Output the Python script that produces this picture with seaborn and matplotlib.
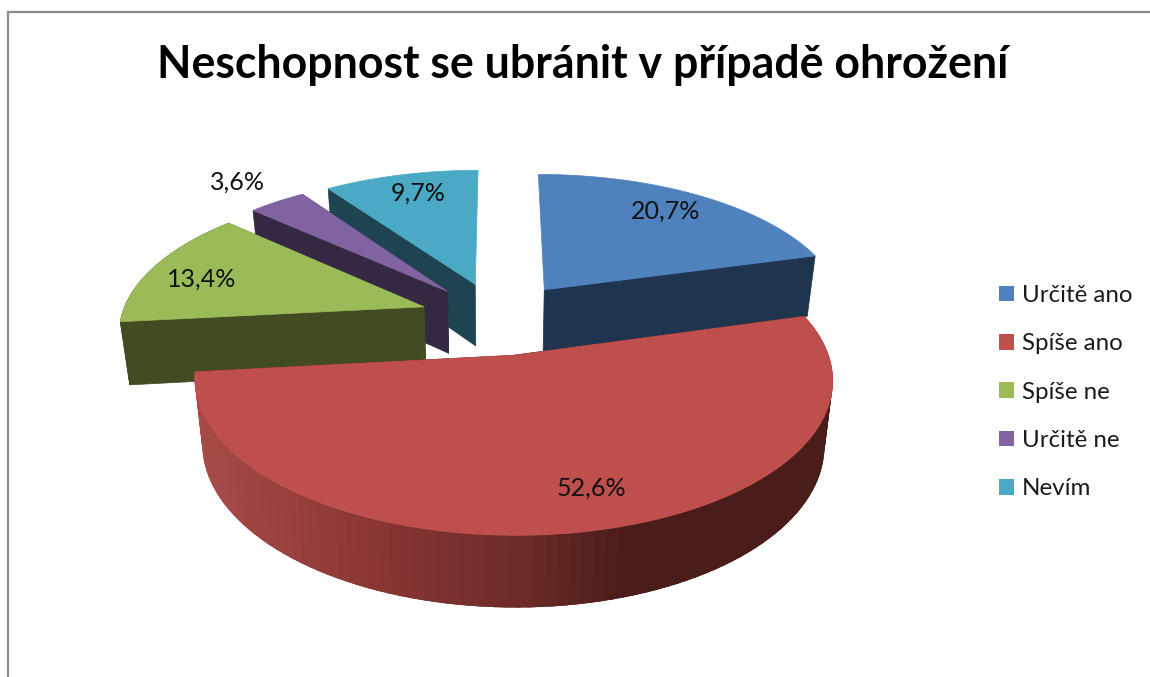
import numpy as np
import matplotlib
matplotlib.use('Agg')
import matplotlib.pyplot as plt
from matplotlib.colors import LinearSegmentedColormap
from matplotlib.patches import Patch, Polygon
import seaborn as sns

titulo = 'Neschopnost se ubránit v případě ohrožení'
categorias = ['Určitě ano', 'Spíše ano', 'Spíše ne', 'Určitě ne', 'Nevím']
valores = [20.7, 52.6, 13.4, 3.6, 9.7]
etiquetas = ['20,7%', '52,6%', '13,4%', '3,6%', '9,7%']
colores = ['#4F81BD', '#BE4F4C', '#9BBB59', '#8064A2', '#4AA9C4']
colores_pared = ['#1E344F', '#4B1D1A', '#414C23', '#352843', '#1D4450']

sns.set_theme(style='white')
plt.rcParams['font.family'] = ['Lato', 'DejaVu Sans']
paleta = sns.color_palette(colores)

# proyeccion del pie 3D, todo en pixeles de la imagen
cx, cy = 498, 318
rx, ry = 303, 140.5
persp = 0.15
grosor = 63
fondo = 0.975
explode = 0.26


def proyectar(X, Y, abajo=False):
    s = 1 / (1 + persp * Y)
    z = fondo if abajo else 1
    x = cx + rx * X * s * z
    y = cy - ry * Y * s * z
    if abajo:
        y = y + grosor * s
    return np.column_stack([x, y])


def gradiente_rojo():
    return LinearSegmentedColormap.from_list(
        'pared', [(0, '#A94C48'), (0.33, '#843430'), (0.52, '#6E2C2A'),
                  (0.68, '#4B1D1A'), (1, '#4B1D1A')])


fig = plt.figure(figsize=(11.5, 6.77), dpi=100)
ax = fig.add_axes([0, 0, 1, 1])
ax.set_xlim(0, 1150)
ax.set_ylim(677, 0)
ax.axis('off')

# marco gris
ax.plot([8, 8, 1150], [677, 12, 12], color='#8C8C8C', lw=1.6, solid_joinstyle='miter')

cum = np.cumsum([0] + valores) / sum(valores)
angulos = np.radians(90 - 360 * cum)

# orden de atras hacia adelante
for i in [4, 0, 3, 2, 1]:
    a0, a1 = angulos[i], angulos[i + 1]
    mid = (a0 + a1) / 2
    ax0, ay0 = explode * np.cos(mid), explode * np.sin(mid)
    t = np.linspace(a0, a1, 200)
    X = ax0 + np.cos(t)
    Y = ay0 + np.sin(t)
    arriba = proyectar(X, Y)
    abajo = proyectar(X, Y, abajo=True)
    apex_a = proyectar(np.array([ax0]), np.array([ay0]))
    apex_b = proyectar(np.array([ax0]), np.array([ay0]), abajo=True)

    # paredes radiales, las verticales quedan de canto y no se ven
    for k in [0, -1]:
        if abs(np.cos(t[k])) < 0.05:
            continue
        pared = np.vstack([apex_a, arriba[k], abajo[k], apex_b])
        ax.add_patch(Polygon(pared, closed=True, fc=colores_pared[i], ec=colores_pared[i], lw=0.5))

    # pared exterior
    if i == 1:
        cmap = gradiente_rojo()
        # cada trozo pisa al siguiente para que no queden rayas
        for j in range(0, len(t) - 1, 2):
            f = np.clip((arriba[j, 0] - 192) / (834 - 192), 0, 1)
            fin = min(j + 5, len(t) - 1)
            quad = np.vstack([arriba[j:fin + 1], abajo[j:fin + 1][::-1]])
            ax.add_patch(Polygon(quad, closed=True, fc=cmap(f), ec='none'))
    else:
        pared = np.vstack([arriba, abajo[::-1]])
        # solo la parte de delante del arco asoma bajo la tapa
        if np.any(np.sin(t) + ay0 < 0):
            ax.add_patch(Polygon(pared, closed=True, fc=colores_pared[i], ec=colores_pared[i], lw=0.5))

    # tapa
    tapa = np.vstack([apex_a, arriba])
    ax.add_patch(Polygon(tapa, closed=True, fc=paleta[i], ec=paleta[i], lw=0.5))

pos_etiquetas = [(666, 211), (591, 488), (202, 279), (237, 182), (418, 193)]
for (x, y), txt in zip(pos_etiquetas, etiquetas):
    ax.text(x, y, txt, ha='center', va='center', fontsize=18, color='#111111')

ax.text(582.5, 65, titulo, ha='center', va='center', fontsize=32.1, fontweight='bold', color='black')

handles = [Patch(fc=c, ec='none', label=n) for c, n in zip(paleta, categorias)]
ax.legend(handles=handles, loc='upper left', bbox_to_anchor=(999, 285), bbox_transform=ax.transData,
          frameon=False, fontsize=17.4, handlelength=0.62, handleheight=0.62, handletextpad=0.33,
          labelspacing=1.13, borderpad=0, borderaxespad=0, labelcolor='#1A1A1A')

fig.savefig('out.png', dpi=100)
